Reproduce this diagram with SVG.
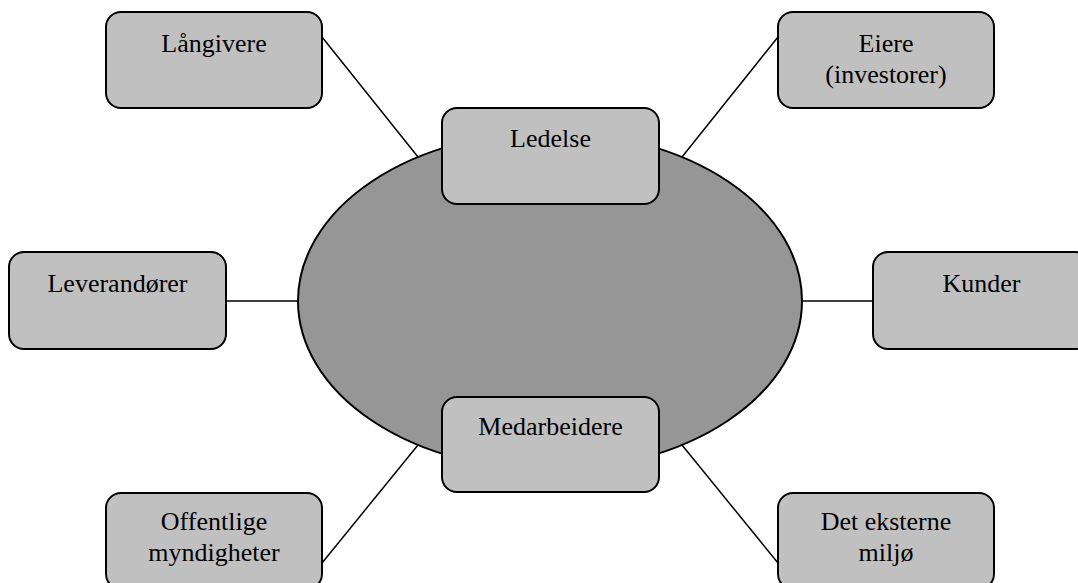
<svg xmlns="http://www.w3.org/2000/svg" width="1078" height="583" viewBox="0 0 1078 583">
<style>
.box{fill:#C0C0C0;stroke:#000;stroke-width:2}
.lbl{font-family:"Liberation Serif","Times New Roman",serif;font-size:26px;fill:#000;text-anchor:middle}
.conn{stroke:#000;stroke-width:1.5;fill:none}
</style>
<rect width="1078" height="583" fill="#fff"/>
<g id="connectors">
<line class="conn" x1="322" y1="37" x2="418" y2="157"/>
<line class="conn" x1="778" y1="37" x2="682" y2="157"/>
<line class="conn" x1="226" y1="301" x2="298" y2="301"/>
<line class="conn" x1="802" y1="301" x2="873" y2="301"/>
<line class="conn" x1="322" y1="563" x2="418" y2="445"/>
<line class="conn" x1="778" y1="563" x2="682" y2="445"/>
</g>
<g id="center">
<ellipse cx="550" cy="301" rx="252" ry="169" fill="#969696" stroke="#000" stroke-width="2"/>
</g>
<g id="ledelse">
<rect class="box" x="442" y="108" width="217" height="96" rx="15"/>
<text class="lbl" x="550.5" y="147">Ledelse</text>
</g>
<g id="medarbeidere">
<rect class="box" x="442" y="397" width="217" height="95" rx="15"/>
<text class="lbl" x="550.5" y="435">Medarbeidere</text>
</g>
<g id="langivere">
<rect class="box" x="106" y="12" width="216" height="96" rx="15"/>
<text class="lbl" x="214" y="52">Långivere</text>
</g>
<g id="eiere">
<rect class="box" x="778" y="12" width="216" height="96" rx="15"/>
<text class="lbl" x="886" y="52">Eiere</text>
<text class="lbl" x="886" y="83">(investorer)</text>
</g>
<g id="leverandorer">
<rect class="box" x="9" y="252" width="217" height="97" rx="15"/>
<text class="lbl" x="117.5" y="292">Leverandører</text>
</g>
<g id="kunder">
<rect class="box" x="873" y="252" width="217" height="97" rx="15"/>
<text class="lbl" x="981.5" y="292">Kunder</text>
</g>
<g id="offentlige">
<rect class="box" x="106" y="493" width="216" height="96" rx="15"/>
<text class="lbl" x="214" y="530">Offentlige</text>
<text class="lbl" x="214" y="561">myndigheter</text>
</g>
<g id="miljo">
<rect class="box" x="778" y="493" width="216" height="96" rx="15"/>
<text class="lbl" x="886" y="530">Det eksterne</text>
<text class="lbl" x="886" y="561">miljø</text>
</g>
</svg>
